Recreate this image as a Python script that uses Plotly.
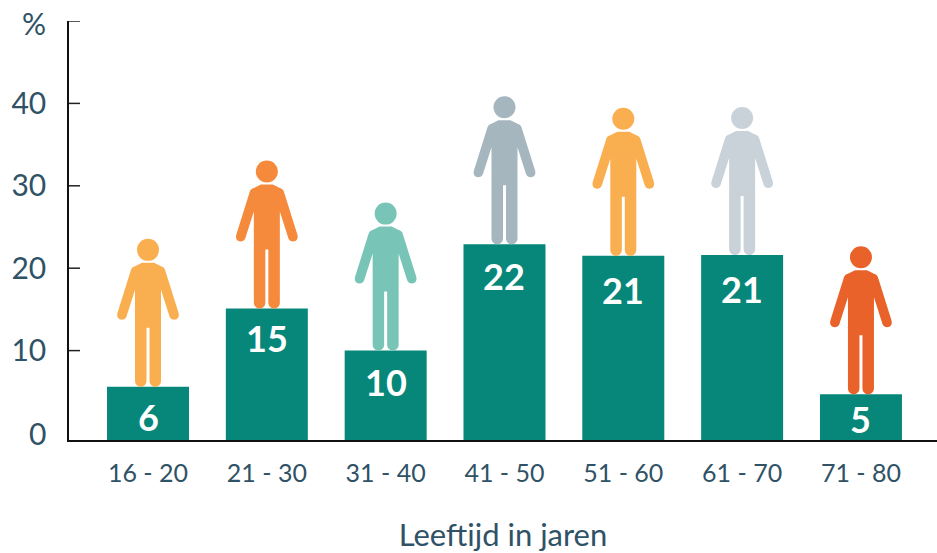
import plotly.graph_objects as go

categories = ["16 - 20", "21 - 30", "31 - 40", "41 - 50", "51 - 60", "61 - 70", "71 - 80"]
bar_heights = [5.6, 15.1, 10.0, 22.9, 21.5, 21.6, 4.7]
bar_labels = ["6", "15", "10", "22", "21", "21", "5"]
person_colors = ["#F9AE4F", "#F58A3C", "#78C5B8", "#A5B6BE", "#F9AE4F", "#CAD2D9", "#E8622A"]
y_ticks = [10, 20, 30, 40, 50]
y_tick_text = ["10", "20", "30", "40", ""]

TEAL = "#06877A"
INK = "#2F5266"
AXIS_MIN = -0.85
FONT = "Lato"
LABEL_DROP = [30, 29, 31, 32, 34, 34, 25]


def person_path():
    return (
        "M -1.5 6 C -1.5 2.5 -4 0 -7.2 0 C -10.5 0 -13 2.5 -13 6 "
        "L -13 97 L -21.6 70 C -22.8 67 -26 66.5 -28.5 67.5 C -30.8 68.7 -31.3 71.5 -30.5 74 "
        "L -17 117 C -16.4 119 -15 120 -13 120.6 L -6 124 L 6 124 L 13 120.6 "
        "C 15 120 16.4 119 17 117 L 30.5 74 C 31.3 71.5 30.8 68.7 28.5 67.5 "
        "C 26 66.5 22.8 67 21.6 70 L 13 97 L 13 6 C 13 2.5 10.5 0 7.2 0 "
        "C 4 0 1.5 2.5 1.5 6 L 1.5 59 L -1.5 59 Z"
    )


fig = go.Figure(
    go.Bar(
        x=categories,
        y=[h - AXIS_MIN for h in bar_heights],
        base=AXIS_MIN,
        width=0.69,
        marker=dict(color=TEAL, line=dict(width=0)),
        hoverinfo="skip",
    )
)

shapes = []
annotations = []
for tick in y_ticks:
    shapes.append(dict(
        type="line", xref="paper", yref="y", x0=0, x1=11 / 868, y0=tick, y1=tick,
        line=dict(color="#222222", width=1.5), layer="above",
    ))
for cat, h, lab, col, drop in zip(categories, bar_heights, bar_labels, person_colors, LABEL_DROP):
    shapes.append(dict(
        type="path", xref="x", yref="y", xsizemode="pixel", ysizemode="pixel",
        xanchor=cat, yanchor=h, path=person_path(),
        fillcolor=col, line=dict(width=0), layer="above",
    ))
    shapes.append(dict(
        type="circle", xref="x", yref="y", xsizemode="pixel", ysizemode="pixel",
        xanchor=cat, yanchor=h, x0=-11, x1=11, y0=126, y1=148,
        fillcolor=col, line=dict(width=0), layer="above",
    ))
    annotations.append(dict(
        x=cat, y=h, xref="x", yref="y", text=f"<b>{lab}</b>", showarrow=False,
        yanchor="middle", yshift=-drop, font=dict(family=FONT, size=36, color="white"),
    ))

annotations.append(dict(
    x=-21 / 868, xref="paper", xanchor="right", y=50, yref="y", yshift=-2, text="%",
    showarrow=False, font=dict(family=FONT, size=30, color=INK),
))
annotations.append(dict(
    x=-21 / 868, xref="paper", xanchor="right", y=0, yref="y", yshift=0, text="0",
    showarrow=False, font=dict(family=FONT, size=30, color=INK),
))

fig.update_layout(
    width=937,
    height=553,
    autosize=False,
    margin=dict(l=69, r=0, t=20.5, b=113, autoexpand=False),
    paper_bgcolor="white",
    plot_bgcolor="white",
    showlegend=False,
    shapes=shapes,
    annotations=annotations,
    font=dict(family=FONT, color=INK),
    xaxis=dict(
        type="category",
        categoryorder="array",
        categoryarray=categories,
        range=[-0.665, 6.64],
        showgrid=False,
        zeroline=False,
        showline=True,
        linecolor="#111111",
        linewidth=1.5,
        ticks="",
        tickfont=dict(family=FONT, size=25, color=INK),
        ticklabelstandoff=10,
        title=dict(text="Leeftijd in jaren", font=dict(family=FONT, size=31, color=INK), standoff=46),
    ),
    yaxis=dict(
        range=[AXIS_MIN, 50],
        tickmode="array",
        tickvals=y_ticks,
        ticktext=y_tick_text,
        showgrid=False,
        zeroline=False,
        showline=True,
        linecolor="#111111",
        linewidth=1.5,
        ticks="",
        tickfont=dict(family=FONT, size=30, color=INK),
        ticklabelstandoff=15,
    ),
)

fig.write_html(
    "out.html",
    config={"displayModeBar": False},
    post_script="document.body.style.margin='0';document.body.style.overflow='hidden';",
)
